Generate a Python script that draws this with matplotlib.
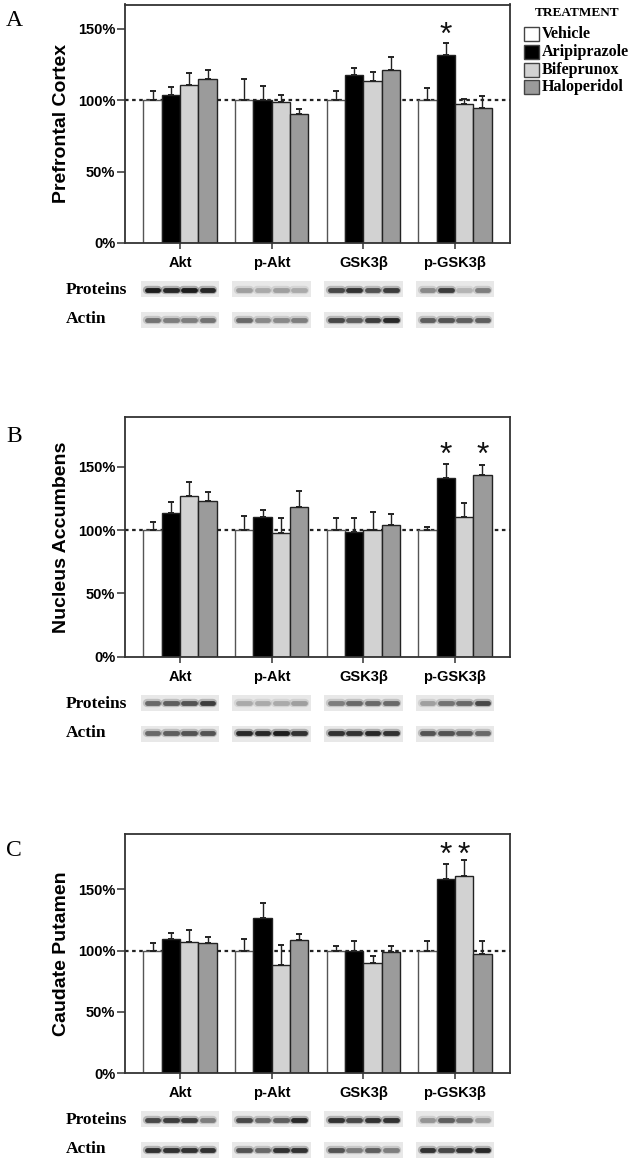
import matplotlib
matplotlib.use("Agg")
import matplotlib.pyplot as plt
import numpy as np
from matplotlib.patches import Rectangle

W, H, DPI = 629, 1167, 100

groups = ["Akt", "p-Akt", "GSK3β", "p-GSK3β"]
treatments = ["Vehicle", "Aripiprazole", "Bifeprunox", "Haloperidol"]
bar_colors = ["#ffffff", "#000000", "#d2d2d2", "#9b9b9b"]

# ---- Prefrontal cortex (mean %, upper SEM) ----
pfc_vehicle = [100, 100, 100, 100]
pfc_aripiprazole = [103.7, 100.0, 117.4, 131.6]
pfc_bifeprunox = [110.9, 98.4, 113.5, 97.0]
pfc_haloperidol = [115.1, 90.2, 121.4, 94.7]
pfc_vehicle_sem = [6.3, 15.1, 6.5, 8.4]
pfc_aripiprazole_sem = [5.6, 10.2, 5.2, 8.6]
pfc_bifeprunox_sem = [8.2, 5.3, 6.3, 3.7]
pfc_haloperidol_sem = [6.3, 3.5, 9.1, 8.3]

# ---- Nucleus accumbens ----
nac_vehicle = [100, 100, 100, 100]
nac_aripiprazole = [113.7, 110.0, 98.4, 141.3]
nac_bifeprunox = [127.1, 97.4, 100.3, 110.5]
nac_haloperidol = [122.9, 117.9, 103.7, 143.4]
nac_vehicle_sem = [6.6, 10.8, 9.7, 2.6]
nac_aripiprazole_sem = [8.1, 5.8, 10.8, 10.8]
nac_bifeprunox_sem = [10.8, 12.3, 13.9, 10.5]
nac_haloperidol_sem = [6.8, 12.9, 8.7, 7.9]

# ---- Caudate putamen ----
cpu_vehicle = [100, 100, 100, 100]
cpu_aripiprazole = [109.2, 126.6, 100.0, 158.4]
cpu_bifeprunox = [107.3, 88.0, 90.0, 160.9]
cpu_haloperidol = [106.3, 108.7, 98.9, 97.0]
cpu_vehicle_sem = [6.0, 9.2, 3.5, 7.9]
cpu_aripiprazole_sem = [4.9, 12.5, 7.6, 12.3]
cpu_bifeprunox_sem = [9.5, 16.6, 5.7, 13.0]
cpu_haloperidol_sem = [5.1, 4.6, 4.6, 10.9]

# significance (group index, treatment index)
pfc_sig = [(3, 1)]
nac_sig = [(3, 1), (3, 3)]
cpu_sig = [(3, 1), (3, 2)]

# western blot band darkness (0..1), per group, 4 lanes
pfc_blot_protein = [[0.95, 0.9, 0.95, 0.9], [0.35, 0.3, 0.35, 0.3], [0.75, 0.85, 0.7, 0.8], [0.45, 0.8, 0.25, 0.5]]
pfc_blot_actin = [[0.55, 0.5, 0.5, 0.55], [0.6, 0.45, 0.45, 0.5], [0.75, 0.65, 0.8, 0.9], [0.65, 0.7, 0.65, 0.65]]
nac_blot_protein = [[0.6, 0.65, 0.7, 0.8], [0.3, 0.3, 0.3, 0.35], [0.5, 0.6, 0.6, 0.6], [0.35, 0.55, 0.6, 0.75]]
nac_blot_actin = [[0.6, 0.65, 0.7, 0.7], [0.9, 0.9, 0.95, 0.85], [0.85, 0.85, 0.9, 0.85], [0.7, 0.7, 0.65, 0.6]]
cpu_blot_protein = [[0.75, 0.8, 0.8, 0.5], [0.75, 0.6, 0.65, 0.9], [0.85, 0.75, 0.85, 0.85], [0.4, 0.65, 0.55, 0.35]]
cpu_blot_actin = [[0.85, 0.85, 0.85, 0.85], [0.7, 0.6, 0.85, 0.85], [0.7, 0.5, 0.65, 0.5], [0.85, 0.75, 0.85, 0.9]]

SANS = ["Liberation Sans", "DejaVu Sans"]
SERIF = ["Liberation Serif", "DejaVu Serif"]

panels = [
    dict(letter="A", ylabel="Prefrontal Cortex", top=4.5, bottom=243, ymax=167,
         means=[pfc_vehicle, pfc_aripiprazole, pfc_bifeprunox, pfc_haloperidol],
         sems=[pfc_vehicle_sem, pfc_aripiprazole_sem, pfc_bifeprunox_sem, pfc_haloperidol_sem],
         sig=pfc_sig, star_y=144.8, letter_y=20,
         blot_p=pfc_blot_protein, blot_a=pfc_blot_actin),
    dict(letter="B", ylabel="Nucleus Accumbens", top=417.3, bottom=656.7, ymax=189,
         means=[nac_vehicle, nac_aripiprazole, nac_bifeprunox, nac_haloperidol],
         sems=[nac_vehicle_sem, nac_aripiprazole_sem, nac_bifeprunox_sem, nac_haloperidol_sem],
         sig=nac_sig, star_y=158.5, letter_y=437,
         blot_p=nac_blot_protein, blot_a=nac_blot_actin),
    dict(letter="C", ylabel="Caudate Putamen", top=834, bottom=1073.3, ymax=195,
         means=[cpu_vehicle, cpu_aripiprazole, cpu_bifeprunox, cpu_haloperidol],
         sems=[cpu_vehicle_sem, cpu_aripiprazole_sem, cpu_bifeprunox_sem, cpu_haloperidol_sem],
         sig=cpu_sig, star_y=177.3, letter_y=851,
         blot_p=cpu_blot_protein, blot_a=cpu_blot_actin),
]

fig = plt.figure(figsize=(W / DPI, H / DPI), dpi=DPI)
fig.patch.set_facecolor("white")

AX_L, AX_W = 125, 385
x = np.arange(len(groups))
offsets = [-0.3, -0.1, 0.1, 0.3]
bw = 0.2

for p in panels:
    ax = fig.add_axes([AX_L / W, 1 - p["bottom"] / H, AX_W / W, (p["bottom"] - p["top"]) / H])
    ax.set_xlim(-0.6, 3.6)
    ax.set_ylim(0, p["ymax"])
    ax.axhline(100, color="#222222", lw=1.6, ls=(0, (1.6, 1.6)), zorder=1)
    for t, (m, s, c, off) in enumerate(zip(p["means"], p["sems"], bar_colors, offsets)):
        ec = "#555555" if t == 0 else "#222222"
        ax.bar(x + off, m, width=bw, color=c, edgecolor=ec, linewidth=1.0, zorder=2)
        ax.errorbar(x + off, m, yerr=[np.zeros(len(s)), s], fmt="none", ecolor="#222222",
                    elinewidth=1.0, capsize=2.2, capthick=1.4, zorder=3)
    for g, t in p["sig"]:
        ax.text(x[g] + offsets[t], p["star_y"], "*", ha="center", va="center",
                fontsize=23, family=SANS, color="#111111", zorder=4)
    for sp in ax.spines.values():
        sp.set_linewidth(1.3)
        sp.set_color("#333333")
    ax.set_yticks([0, 50, 100, 150])
    ax.set_yticklabels(["0%", "50%", "100%", "150%"], fontsize=10.5, fontweight="bold", family=SANS)
    ax.set_xticks(x)
    ax.set_xticklabels(groups, fontsize=10.5, fontweight="bold", family=SANS)
    ax.tick_params(axis="y", length=6, width=1.1, pad=1, color="#333333")
    ax.tick_params(axis="x", length=4.5, width=1.1, pad=5, color="#333333")
    ax.set_ylabel(p["ylabel"], fontsize=14, fontweight="bold", family=SANS)
    ax.yaxis.set_label_coords(-0.143, 0.5)
    fig.text(6 / W, 1 - p["letter_y"] / H, p["letter"], fontsize=17, family=SERIF,
             ha="left", va="center")

    # western blots
    b0 = p["bottom"]
    bax = fig.add_axes([AX_L / W, 1 - (b0 + 88) / H, AX_W / W, 53 / H])
    bax.set_xlim(-0.6, 3.6)
    bax.set_ylim(88, 35)
    bax.axis("off")
    for row, (data, y0, hgt, yc) in enumerate([(p["blot_p"], 38, 16, 46.5), (p["blot_a"], 69, 16, 76.5)]):
        for g in range(len(groups)):
            bax.add_patch(Rectangle((x[g] - 0.43, y0), 0.86, hgt, facecolor="#e8e8e8",
                                    edgecolor="none", zorder=1))
            for lane, off in enumerate(offsets):
                d = data[g][lane]
                col = str(max(0.0, 0.92 - 0.85 * d))
                xs = [x[g] + off - 0.065, x[g] + off + 0.065]
                bax.plot(xs, [yc, yc], color=col, lw=6, alpha=0.3, solid_capstyle="round", zorder=2)
                bax.plot(xs, [yc, yc], color=col, lw=3.5, solid_capstyle="round", zorder=3)
    fig.text(66 / W, 1 - (b0 + 47) / H, "Proteins", fontsize=12.5, fontweight="bold",
             family=SERIF, ha="left", va="center")
    fig.text(66 / W, 1 - (b0 + 76) / H, "Actin", fontsize=12.5, fontweight="bold",
             family=SERIF, ha="left", va="center")

# legend
fig.text(577 / W, 1 - 13 / H, "TREATMENT", fontsize=9.5, fontweight="bold", family=SERIF,
         ha="center", va="center")
for i, (name, c) in enumerate(zip(treatments, bar_colors)):
    yc = 34.3 + i * 17.6
    fig.patches.append(Rectangle((524 / W, 1 - (yc + 7) / H), 15 / W, 14 / H,
                                 transform=fig.transFigure, facecolor=c, edgecolor="#444444", lw=1.0))
    fig.text(542 / W, 1 - yc / H, name, fontsize=11.5, fontweight="bold", family=SERIF,
             ha="left", va="center")

fig.savefig("out.png", dpi=DPI)
